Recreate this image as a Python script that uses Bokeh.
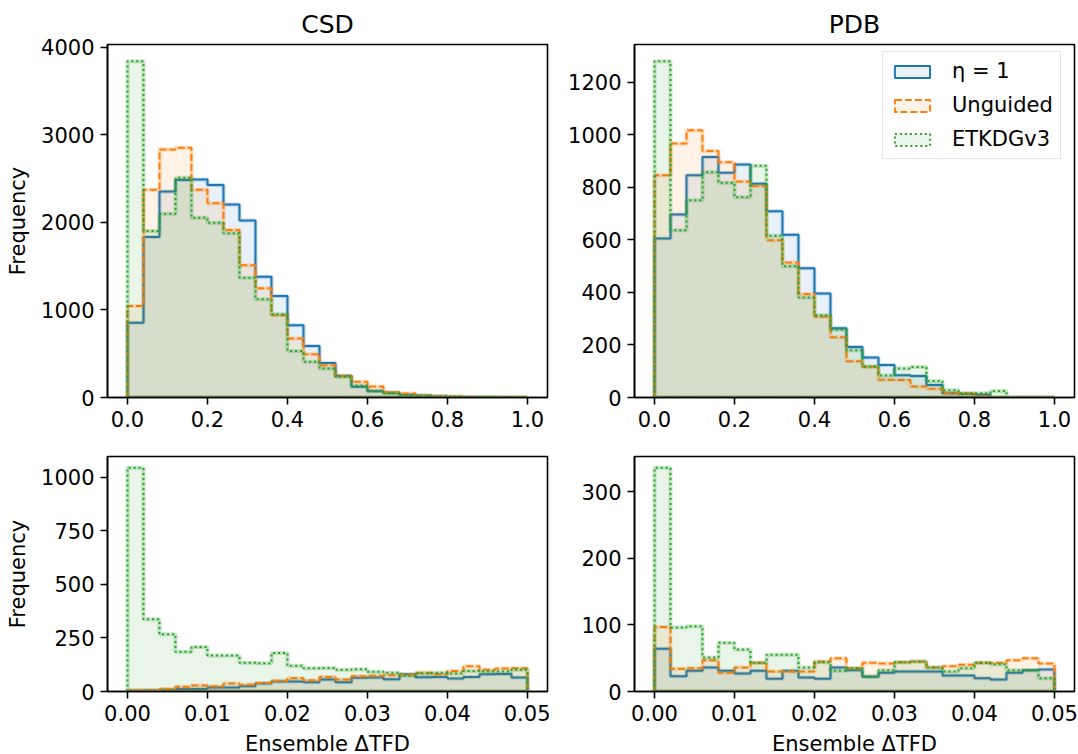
import numpy as np
from bokeh.plotting import figure
from bokeh.layouts import column, row
from bokeh.models import Range1d, FixedTicker, PrintfTickFormatter, Legend, LegendItem
from bokeh.embed import file_html
from bokeh.resources import INLINE

# ---------------- data ----------------
series_names = ["η = 1", "Unguided", "ETKDGv3"]
panel_titles = ["CSD", "PDB"]
x_label = "Ensemble ΔTFD"
y_label = "Frequency"

edges_top = np.linspace(0.0, 1.0, 26)
edges_bottom = np.linspace(0.0, 0.05, 26)

eta_csd_top = [855, 1833, 2354, 2483, 2490, 2426, 2205, 2023, 1380, 1160, 825, 587, 395, 248, 122, 72, 55, 30, 19, 11, 6, 4, 2, 1, 1]
ung_csd_top = [1045, 2372, 2833, 2852, 2372, 2220, 1913, 1510, 1247, 939, 673, 494, 369, 245, 179, 125, 61, 46, 23, 15, 10, 6, 4, 3, 2]
etk_csd_top = [3840, 1901, 2099, 2510, 2053, 1996, 1875, 1369, 1122, 951, 532, 407, 331, 236, 137, 76, 49, 23, 19, 11, 8, 5, 3, 2, 1]

eta_pdb_top = [605, 696, 846, 915, 855, 886, 813, 709, 619, 492, 396, 263, 192, 152, 124, 85, 82, 48, 16, 13, 10, 0, 0, 0, 0]
ung_pdb_top = [846, 966, 1017, 938, 895, 822, 805, 598, 514, 394, 307, 229, 138, 117, 68, 67, 42, 33, 16, 15, 5, 0, 0, 0, 0]
etk_pdb_top = [1279, 636, 750, 857, 817, 762, 882, 615, 499, 380, 313, 258, 180, 118, 84, 110, 116, 63, 28, 16, 16, 25, 0, 0, 0]

eta_csd_bot = [3, 5, 8, 12, 12, 19, 19, 25, 37, 47, 47, 43, 56, 43, 64, 65, 57, 81, 67, 68, 61, 68, 81, 82, 65]
ung_csd_bot = [6, 6, 12, 22, 28, 25, 37, 31, 40, 50, 62, 53, 68, 56, 71, 73, 76, 78, 88, 81, 96, 118, 102, 107, 109]
etk_csd_bot = [1044, 337, 267, 185, 208, 168, 168, 134, 132, 180, 120, 109, 110, 101, 104, 92, 87, 74, 84, 87, 84, 96, 93, 93, 102]

eta_pdb_bot = [64, 23, 31, 36, 31, 27, 31, 19, 31, 21, 19, 36, 32, 22, 28, 30, 30, 30, 24, 24, 20, 18, 28, 32, 33]
ung_pdb_bot = [97, 34, 35, 47, 28, 36, 43, 30, 30, 30, 45, 50, 35, 43, 42, 44, 45, 36, 38, 40, 43, 43, 47, 50, 42]
etk_pdb_bot = [336, 96, 98, 51, 73, 63, 43, 55, 55, 36, 44, 31, 35, 23, 32, 44, 45, 36, 30, 35, 43, 41, 32, 32, 20]

yticks_csd_top = [0, 1000, 2000, 3000, 4000]
yticks_pdb_top = [0, 200, 400, 600, 800, 1000, 1200]
yticks_csd_bot = [0, 250, 500, 750, 1000]
yticks_pdb_bot = [0, 100, 200, 300]
xticks_top = [0.0, 0.2, 0.4, 0.6, 0.8, 1.0]
xticks_bot = [0.0, 0.01, 0.02, 0.03, 0.04, 0.05]

# ---------------- style ----------------
colors = ["#1f77b4", "#ff7f0e", "#2ca02c"]
dashes = ["solid", "7 3", "2 3"]
FONT = "DejaVu Sans"
TICK_FS = "21px"
LABEL_FS = "21px"


def make_panel(edges, series, yticks, xticks, xfmt, frame_h, borders, title=None,
               ylabel=None, xlabel=None, legend=False):
    left, right, top, bottom = borders
    ymax = max(max(s) for s in series) * 1.05
    span = edges[-1] - edges[0]
    p = figure(frame_width=440, frame_height=frame_h,
               min_border_left=left, min_border_right=right,
               min_border_top=top, min_border_bottom=bottom,
               x_range=Range1d(edges[0] - 0.05 * span, edges[-1] + 0.05 * span),
               y_range=Range1d(0, ymax),
               output_backend="svg", toolbar_location=None, tools="")
    p.background_fill_color = "white"
    p.border_fill_color = "white"
    p.outline_line_color = "black"
    p.outline_line_width = 1.6
    p.xgrid.visible = False
    p.ygrid.visible = False

    renderers = []
    for s, c, d in zip(series, colors, dashes):
        xs = np.repeat(edges, 2)
        ys = np.concatenate([[0], np.repeat(np.asarray(s, dtype=float), 2), [0]])
        # faint halo
        p.patch(xs, ys, fill_alpha=0, line_color=c, line_alpha=0.25, line_width=4)
        r = p.patch(xs, ys, fill_color=c, fill_alpha=0.1, line_color=c,
                    line_width=2, line_dash=d)
        renderers.append(r)

    for ax in (p.xaxis[0], p.yaxis[0]):
        ax.axis_line_color = "black"
        ax.axis_line_width = 1.6
        ax.major_tick_line_color = "black"
        ax.major_tick_line_width = 1.6
        ax.major_tick_out = 7
        ax.major_tick_in = 0
        ax.minor_tick_out = 0
        ax.minor_tick_in = 0
        ax.major_label_text_font = FONT
        ax.major_label_text_font_size = TICK_FS
        ax.major_label_text_color = "black"
        ax.major_label_standoff = 6
        ax.axis_label_text_font = FONT
        ax.axis_label_text_font_size = LABEL_FS
        ax.axis_label_text_font_style = "normal"
        ax.axis_label_text_color = "black"
        ax.axis_label_standoff = 8

    p.xaxis.ticker = FixedTicker(ticks=xticks)
    p.xaxis.formatter = PrintfTickFormatter(format=xfmt)
    p.yaxis.ticker = FixedTicker(ticks=yticks)
    p.yaxis.formatter = PrintfTickFormatter(format="%d")
    if ylabel:
        p.yaxis.axis_label = ylabel
    if xlabel:
        p.xaxis.axis_label = xlabel
    if title:
        p.title.text = title
        p.title.align = "center"
        p.title.text_font = FONT
        p.title.text_font_size = "25px"
        p.title.text_font_style = "normal"
        p.title.text_color = "black"
        p.title.standoff = 12
    if legend:
        items = [LegendItem(label=n, renderers=[r]) for n, r in zip(series_names, renderers)]
        lg = Legend(items=items, location=(248, 238))
        lg.label_text_font = FONT
        lg.label_text_font_size = "21px"
        lg.label_text_color = "black"
        lg.glyph_width = 44
        lg.glyph_height = 15
        lg.label_height = 20
        lg.label_standoff = 18
        lg.spacing = 10
        lg.padding = 7
        lg.margin = 0
        lg.border_line_color = "#cccccc"
        lg.border_line_width = 1.2
        lg.background_fill_alpha = 0.8
        p.add_layout(lg, "center")
    return p


p1 = make_panel(edges_top, [eta_csd_top, ung_csd_top, etk_csd_top], yticks_csd_top, xticks_top, "%.1f",
                353, (107, 3, 44, 39), title=panel_titles[0], ylabel=y_label)
p2 = make_panel(edges_top, [eta_pdb_top, ung_pdb_top, etk_pdb_top], yticks_pdb_top, xticks_top, "%.1f",
                353, (84, 4, 44, 39), title=panel_titles[1], legend=True)
p3 = make_panel(edges_bottom, [eta_csd_bot, ung_csd_bot, etk_csd_bot], yticks_csd_bot, xticks_bot, "%.2f",
                235, (107, 3, 20, 63), ylabel=y_label, xlabel=x_label)
p4 = make_panel(edges_bottom, [eta_pdb_bot, ung_pdb_bot, etk_pdb_bot], yticks_pdb_bot, xticks_bot, "%.2f",
                235, (84, 4, 20, 63), xlabel=x_label)

layout = column(row(p1, p2, spacing=0), row(p3, p4, spacing=0), spacing=0)

with open("out.html", "w") as f:
    f.write(file_html(layout, INLINE))
